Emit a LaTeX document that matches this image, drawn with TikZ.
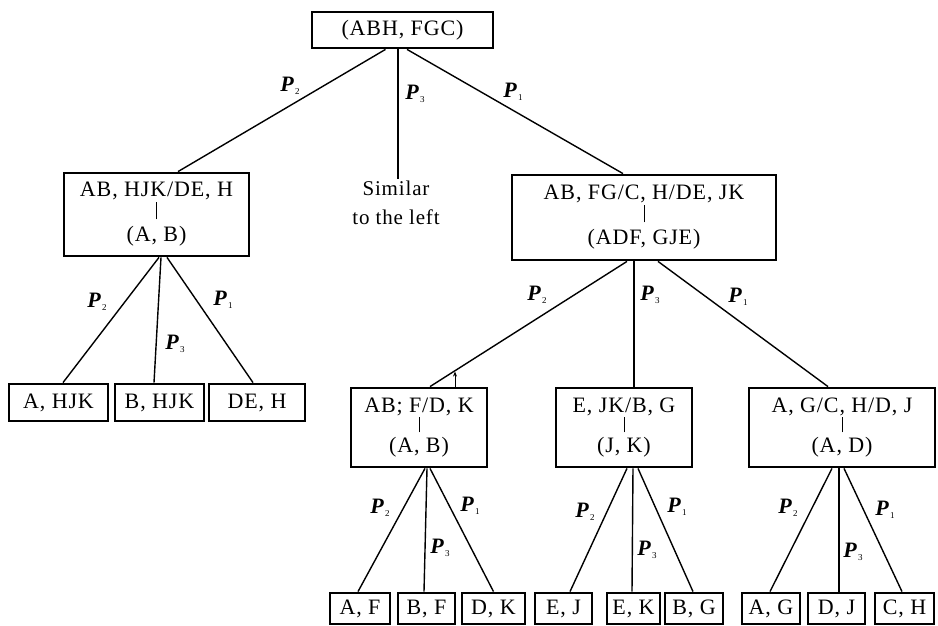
\documentclass[tikz,border=0pt]{standalone}
\usepackage{fontspec}
\setmainfont{Liberation Serif}[LetterSpace=4]
\usetikzlibrary{arrows.meta}
\newcommand\Plab[1]{\textbf{\textit{P}}\kern0.3pt\raisebox{-3pt}{\fontsize{9}{9}\selectfont #1}}
\newcommand\vbar[1]{\rule{0.9pt}{#1}}
\begin{document}
\begin{tikzpicture}[x=1pt,y=-1pt,
  bx/.style={draw, line width=2.8pt, inner sep=0pt, align=center, font=\fontsize{22}{22.5}\selectfont},
  big/.style={bx, minimum height=85pt},
  mid/.style={bx, minimum height=79pt, font=\fontsize{22}{20}\selectfont},
  leaf/.style={bx, minimum height=31pt},
  lf/.style={bx, minimum height=37pt},
  ln/.style={line width=1.4pt},
  pl/.style={font=\fontsize{22}{22}\selectfont, inner sep=0pt},
]
\useasboundingbox (0,0) rectangle (938,626);
% nodes
\node[bx, minimum width=181pt, minimum height=36pt] (root) at (402.5,30) {(ABH, FGC)};
\node[big, minimum width=185pt, minimum height=83pt] (L) at (156.5,214.5) {AB, HJK/DE, H\\\vbar{17pt}\\(A, B)};
\node[align=center, font=\fontsize{21}{29}\selectfont, inner sep=2pt] (sim) at (396,203) {Similar\\to the left};
\node[big, minimum width=264pt] (R) at (644,217.5) {AB, FG/C, H/DE, JK\\\vbar{17pt}\\(ADF, GJE)};
\node[mid, minimum width=136pt] (N1) at (419,427.5) {AB; F/D, K\\\vbar{15pt}\\(A, B)};
\node[mid, minimum width=136pt] (N2) at (624,427.5) {E, JK/B, G\\\vbar{15pt}\\(J, K)};
\node[mid, minimum width=186pt] (N3) at (842,427.5) {A, G/C, H/D, J\\\vbar{15pt}\\(A, D)};
\node[lf, minimum width=99pt] (la) at (58.5,402.5) {A, HJK};
\node[lf, minimum width=89pt] (lb) at (159.5,402.5) {B, HJK};
\node[lf, minimum width=96pt] (lc) at (257,402.5) {DE, H};
\node[leaf, minimum width=60pt] (a1) at (360,608.5) {A, F};
\node[leaf, minimum width=57pt] (a2) at (426.5,608.5) {B, F};
\node[leaf, minimum width=63pt] (a3) at (493.5,608.5) {D, K};
\node[leaf, minimum width=57pt] (b1) at (563.5,608.5) {E, J};
\node[leaf, minimum width=53pt] (b2) at (633.5,608.5) {E, K};
\node[leaf, minimum width=58pt] (b3) at (694,608.5) {B, G};
\node[leaf, minimum width=58pt] (c1) at (771,608.5) {A, G};
\node[leaf, minimum width=57pt] (c2) at (836.5,608.5) {D, J};
\node[leaf, minimum width=59pt] (c3) at (904.5,608.5) {C, H};
% connectors
\draw[ln] ([xshift=-17pt]root.south) -- ([xshift=21.5pt]L.north);
\draw[ln] ([xshift=-4.5pt]root.south) -- ([xshift=-4.5pt]root.south |- sim.north);
\draw[ln] ([xshift=4.5pt]root.south) -- ([xshift=-21pt]R.north);
\draw[ln] ([xshift=2.5pt]L.south) -- ([xshift=4.5pt]la.north);
\draw[ln] ([xshift=4.5pt]L.south) -- ([xshift=-5.5pt]lb.north);
\draw[ln] ([xshift=10.5pt]L.south) -- ([xshift=-4pt]lc.north);
\draw[ln] ([xshift=-17pt]R.south) -- ([xshift=11pt]N1.north);
\draw[ln] ([xshift=-10pt]R.south) -- ([xshift=10pt]N2.north);
\draw[ln] ([xshift=14pt]R.south) -- ([xshift=-14pt]N3.north);
\draw[ln] ([xshift=6pt]N1.south) -- ([xshift=-2pt]a1.north);
\draw[ln] ([xshift=8pt]N1.south) -- ([xshift=-2.5pt]a2.north);
\draw[ln] ([xshift=11pt]N1.south) -- (a3.north);
\draw[ln] ([xshift=3pt]N2.south) -- ([xshift=6.5pt]b1.north);
\draw[ln] ([xshift=9pt]N2.south) -- ([xshift=-1.5pt]b2.north);
\draw[ln] ([xshift=14pt]N2.south) -- ([xshift=-1pt]b3.north);
\draw[ln] ([xshift=-10pt]N3.south) -- ([xshift=-1pt]c1.north);
\draw[ln] ([xshift=-3pt]N3.south) -- ([xshift=2.5pt]c2.north);
\draw[ln] ([xshift=2pt]N3.south) -- ([xshift=-2.5pt]c3.north);
\draw[line width=1pt, -{Stealth[length=5pt,width=4pt]}] ([xshift=36pt]N1.north) -- ++(0,-15);
% labels
\node[pl] (r2) at (290,86) {\Plab{2}};
\node[pl] (r3) at (415,94) {\Plab{3}};
\node[pl] (r1) at (513,92) {\Plab{1}};
\node[pl] (l2) at (97,302) {\Plab{2}};
\node[pl] (l3) at (175,344) {\Plab{3}};
\node[pl] (l1) at (223,300) {\Plab{1}};
\node[pl] (q2) at (537,295) {\Plab{2}};
\node[pl] (q3) at (650,295) {\Plab{3}};
\node[pl] (q1) at (738,297) {\Plab{1}};
\node[pl] (m2) at (380,508) {\Plab{2}};
\node[pl] (m3) at (440,548) {\Plab{3}};
\node[pl] (m1) at (470,506) {\Plab{1}};
\node[pl] (n2) at (585,512) {\Plab{2}};
\node[pl] (n3) at (647,550) {\Plab{3}};
\node[pl] (n1) at (677,507) {\Plab{1}};
\node[pl] (o2) at (788,508) {\Plab{2}};
\node[pl] (o3) at (853,552) {\Plab{3}};
\node[pl] (o1) at (885,510) {\Plab{1}};
\end{tikzpicture}
\end{document}
